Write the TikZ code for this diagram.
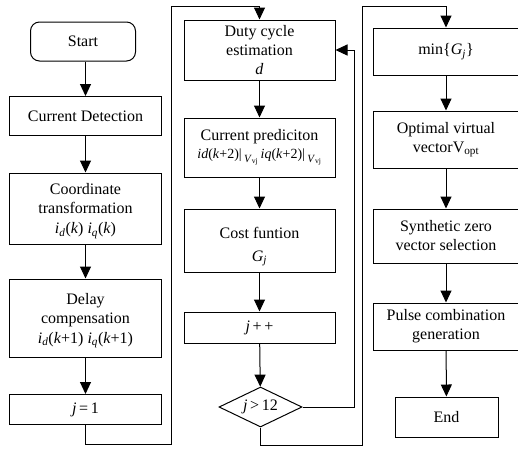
\documentclass[tikz,border=0pt]{standalone}
\usepackage{fontspec}
\setmainfont{Liberation Serif}
\usetikzlibrary{arrows.meta,shapes.geometric}
\newcommand{\vi}[1]{\textit{#1}}
\newcommand{\subx}[1]{\textsubscript{#1}}
\begin{document}
\begin{tikzpicture}[x=1pt,y=-1pt,
  font=\fontsize{16}{19}\selectfont,
  line width=1pt,
  >={Triangle[length=12pt,width=11pt,fill=black]},
  box/.style={draw, inner sep=0pt, align=center, anchor=center},
  col1/.style={box, minimum width=152pt},
  col2/.style={box, minimum width=151pt},
  col3/.style={box, minimum width=145pt},
  arr/.style={->}
]
\useasboundingbox (0,0) rectangle (518,448);
% column 1
\node[box, rounded corners=9pt, minimum width=105pt, minimum height=39pt] (start) at (83,41.5) {Start};
\node[col1, minimum height=39pt] (cd) at (85.5,116) {Current Detection};
\node[col1, minimum height=71pt] (ct) at (85.5,208.5) {\rule{0pt}{16pt}Coordinate\\transformation\\[1pt]\vi{i}\subx{\vi{d}}(\vi{k}) \vi{i}\subx{\vi{q}}(\vi{k})};
\node[col1, minimum height=78pt] (dc) at (85.5,318) {\rule{0pt}{16pt}Delay\\compensation\\[1pt]\vi{i}\subx{\vi{d}}(\vi{k}+1) \vi{i}\subx{\vi{q}}(\vi{k}+1)};
\node[col1, minimum height=30pt] (j1) at (85.5,409.5) {\vi{j}\,=\,1};
% column 2
\node[col2, minimum height=60pt] (duty) at (259.5,50) {Duty cycle\\estimation\\\vi{d}};
\node[col2, minimum height=59pt] (cp) at (259.5,147.5) {Current prediciton\\[-1pt]{\fontsize{14}{16}\selectfont\vi{id}(\vi{k}+2)|\,\raisebox{-0.5ex}{\fontsize{11}{12}\selectfont\vi{V}\subx{vj}}\,\vi{iq}(\vi{k}+2)|\,\raisebox{-0.5ex}{\fontsize{11}{12}\selectfont\vi{V}\subx{vj}}}};
\node[col2, minimum height=63pt] (cf) at (259.5,240.5) {\rule{0pt}{23pt}Cost funtion\\[4pt]\vi{G}\subx{\vi{j}}};
\node[col2, minimum height=31pt] (jpp) at (259.5,327.5) {\vi{j}\,+\,+};
\node[draw, diamond, inner sep=0pt, aspect=2, minimum width=83pt, minimum height=40pt] (dia) at (260.5,407) {\vi{j}\,>\,12};
% column 3
\node[col3, minimum height=47pt] (min) at (446,51.5) {min\{\vi{G}\subx{\vi{j}}\}};
\node[col3, minimum height=57pt] (ov) at (446,139.5) {Optimal virtual\\vectorV\subx{opt}};
\node[col3, minimum height=54pt] (sz) at (446,236) {Synthetic zero\\vector selection};
\node[col3, minimum height=47pt] (pc) at (446,326.5) {Pulse combination\\generation};
\node[box, minimum width=103pt, minimum height=40pt] (end) at (446.5,417) {End};
% helper coordinates
\coordinate (a1) at (171,444);
\coordinate (a2) at (171,6);
\coordinate (b1) at (354,50);
\coordinate (c1) at (362,445);
\coordinate (c2) at (362,6);
% connectors
\draw[arr] (start.south -| cd.north) -- (cd);
\draw[arr] (cd) -- (ct);
\draw[arr] (ct) -- (dc);
\draw[arr] (dc) -- (j1);
\draw[arr] (j1.south) |- (a1) -- (a2) -| (duty.north);
\draw[arr] (duty) -- (cp);
\draw[arr] (cp) -- (cf);
\draw[arr] (cf) -- (jpp);
\draw[arr] (jpp) -- (dia);
\draw[arr] (dia.east) -| (b1) -- (duty.east);
\draw[arr] (dia.south) |- (c1) -- (c2) -| (min.north);
\draw[arr] (min) -- (ov);
\draw[arr] (ov) -- (sz);
\draw[arr] (sz) -- (pc);
\draw[arr] (pc) -- (end);
\end{tikzpicture}
\end{document}
